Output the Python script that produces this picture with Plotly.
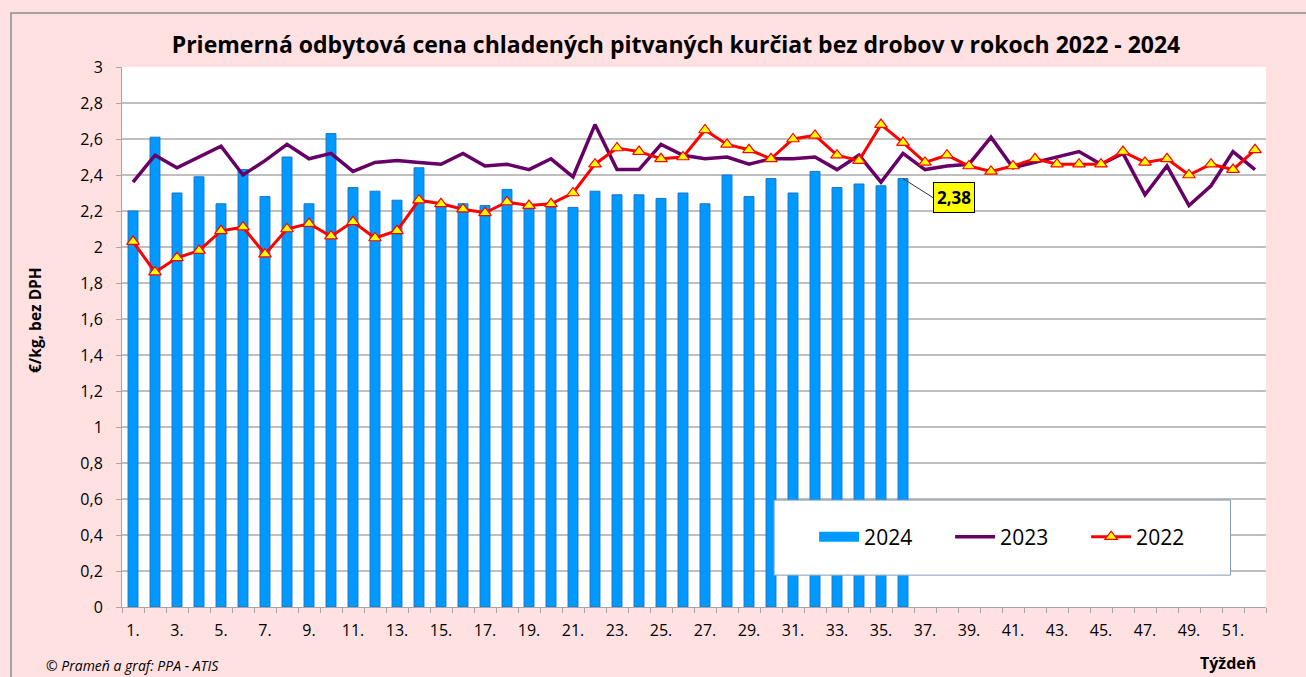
import plotly.graph_objects as go

weeks = list(range(1, 53))
tick_weeks = list(range(1, 53, 2))
tick_labels = [f"{w}." for w in tick_weeks]

v2024 = [2.20, 2.61, 2.30, 2.39, 2.24, 2.43, 2.28, 2.50, 2.24, 2.63,
         2.33, 2.31, 2.26, 2.44, 2.23, 2.24, 2.23, 2.32, 2.22, 2.22,
         2.22, 2.31, 2.29, 2.29, 2.27, 2.30, 2.24, 2.40, 2.28, 2.38,
         2.30, 2.42, 2.33, 2.35, 2.34, 2.38]

v2023 = [2.36, 2.51, 2.44, 2.50, 2.56, 2.40, 2.48, 2.57, 2.49, 2.52,
         2.42, 2.47, 2.48, 2.47, 2.46, 2.52, 2.45, 2.46, 2.43, 2.49,
         2.39, 2.68, 2.43, 2.43, 2.57, 2.51, 2.49, 2.50, 2.46, 2.49,
         2.49, 2.50, 2.43, 2.51, 2.36, 2.52, 2.43, 2.45, 2.46, 2.61,
         2.44, 2.47, 2.50, 2.53, 2.46, 2.52, 2.29, 2.45, 2.23, 2.34,
         2.53, 2.43]

v2022 = [2.03, 1.86, 1.94, 1.98, 2.09, 2.11, 1.96, 2.10, 2.13, 2.06,
         2.14, 2.05, 2.09, 2.26, 2.24, 2.21, 2.19, 2.25, 2.23, 2.24,
         2.30, 2.46, 2.55, 2.53, 2.49, 2.50, 2.65, 2.57, 2.54, 2.49,
         2.60, 2.62, 2.51, 2.48, 2.68, 2.58, 2.47, 2.51, 2.45, 2.42,
         2.45, 2.49, 2.46, 2.46, 2.46, 2.53, 2.47, 2.49, 2.40, 2.46,
         2.43, 2.54]

FONT = "Open Sans"
PINK = "#FFE1E1"
BLUE = "#0099FF"

fig = go.Figure()
fig.add_trace(go.Bar(
    x=weeks[:len(v2024)], y=v2024, name="2024", showlegend=False,
    legendgroup="2024",
    marker=dict(color=BLUE, line=dict(color="#1874CD", width=1)),
))
# legend entry for the bars (wide rectangle look)
fig.add_trace(go.Scatter(
    x=[None], y=[None], name="2024", mode="lines", legendgroup="2024",
    line=dict(color=BLUE, width=12),
))
fig.add_trace(go.Scatter(
    x=weeks, y=v2023, name="2023", mode="lines",
    line=dict(color="#660066", width=3.5),
))
fig.add_trace(go.Scatter(
    x=weeks, y=v2022, name="2022", mode="lines+markers",
    line=dict(color="#FF0000", width=3),
    marker=dict(symbol="triangle-up", size=11, color="#FFFF00",
                line=dict(color="#FF0000", width=1.2)),
))

last_week = len(v2024)
fig.add_annotation(
    x=last_week, y=v2024[-1], xref="x", yref="y",
    text="<b>2,38</b>", showarrow=True, arrowhead=0, arrowwidth=1,
    arrowcolor="#333333", ax=30, ay=19, xanchor="left",
    bgcolor="#FFFF00", bordercolor="#000000", borderwidth=1, borderpad=3,
    font=dict(family=FONT, size=17, color="black"),
)

# legend background box
fig.add_shape(type="rect", xref="paper", yref="paper",
              x0=0.570, x1=0.969, y0=0.059, y1=0.198,
              fillcolor="white", line=dict(color="#7F9DB9", width=1),
              layer="above")

# outer border
fig.add_shape(type="rect", xref="paper", yref="paper",
              x0=-111/1144, x1=1.2, y0=-0.2, y1=594/540,
              line=dict(color="#8C8C8C", width=1.5), fillcolor="rgba(0,0,0,0)",
              layer="below")

fig.add_annotation(text="<b>€/kg, bez DPH</b>", xref="paper", yref="paper",
                   x=-87/1144, y=287/540, textangle=-90, showarrow=False,
                   xanchor="center", yanchor="middle",
                   font=dict(family=FONT, size=15.5, color="black"))
fig.add_annotation(text="<i>© Prameň a graf: PPA - ATIS</i>", xref="paper", yref="paper",
                   x=-78/1144, y=-58/540, xanchor="left", yanchor="middle",
                   showarrow=False,
                   font=dict(family=FONT, size=14, color="black"))
fig.add_annotation(text="<b>Týždeň</b>", xref="paper", yref="paper",
                   x=(1258 - 122)/1144, y=-56/540, xanchor="right", yanchor="middle",
                   showarrow=False,
                   font=dict(family=FONT, size=16, color="black"))

fig.update_layout(
    width=1306, height=677,
    margin=dict(l=122, r=40, t=67, b=70),
    paper_bgcolor=PINK, plot_bgcolor="white",
    separators=", ",
    bargap=0.55,
    title=dict(text="<b>Priemerná odbytová cena chladených pitvaných kurčiat bez drobov v rokoch 2022 - 2024</b>",
               x=676/1306, xanchor="center", y=1 - 45/677, yanchor="middle",
               font=dict(family=FONT, size=23, color="black")),
    font=dict(family=FONT, color="black"),
    showlegend=True,
    legend=dict(orientation="h", x=0.605, y=0.1296, xanchor="left", yanchor="middle",
                bgcolor="rgba(0,0,0,0)", font=dict(family=FONT, size=21),
                entrywidth=81, itemwidth=40, traceorder="normal"),
    xaxis=dict(range=[0.5, 52.5], tickmode="array", tickvals=tick_weeks,
               ticktext=tick_labels, ticks="", showgrid=False,
               showline=True, linecolor="#A6A6A6", linewidth=1,
               tickfont=dict(family=FONT, size=16), zeroline=False,
               ticklabelstandoff=9,
               minor=dict(ticks="outside", ticklen=5, tickcolor="#A6A6A6",
                          tick0=0.5, dtick=1, showgrid=False)),
    yaxis=dict(range=[0, 3], tick0=0, dtick=0.2, showgrid=True,
               gridcolor="#BFBFBF", gridwidth=2, showline=True,
               linecolor="#A6A6A6", linewidth=1, ticks="outside", ticklen=5,
               tickcolor="#A6A6A6", tickfont=dict(family=FONT, size=16),
               ticklabelstandoff=10, zeroline=False),
)

fig.write_html("out.html", config={"displayModeBar": False},
               post_script="document.body.style.margin='0';")
